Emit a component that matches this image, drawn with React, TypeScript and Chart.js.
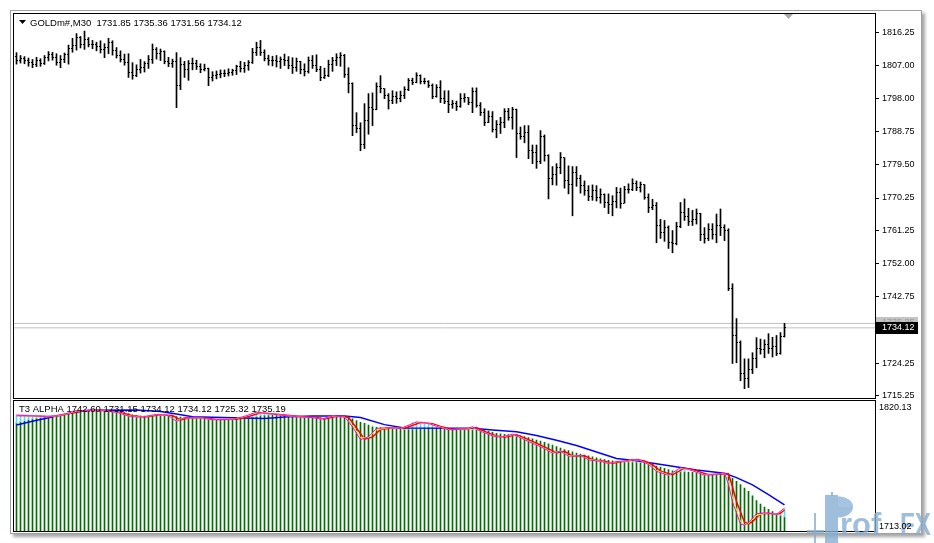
import React, { useEffect, useRef } from "react";
import { Chart, registerables } from "chart.js";
Chart.register(...registerables);

// ---------------- DATA ----------------
const symbol = "GOLDm#,M30";
const indicatorName = "T3 ALPHA";
const indicatorValues = [1742.6, 1731.15, 1734.12, 1734.12, 1725.32, 1735.19];
const priceTicks = [1816.25, 1807.0, 1798.0, 1788.75, 1779.5, 1770.25, 1761.25, 1752.0, 1742.75, 1724.25, 1715.25];
const askPrice = 1735.35;
const subWindowMax = 1820.13;
const subWindowMin = 1713.02;

const opens = [
  1809.5,1808.6,1809.2,1808.4,1807.9,1807.3,1808.5,1807.7,1809.3,1810.2,
  1809.4,1808.0,1808.9,1810.1,1811.9,1812.6,1814.9,1813.0,1814.3,1813.1,
  1812.9,1812.3,1811.6,1812.2,1813.5,1811.2,1810.0,1808.9,1808.0,1805.2,
  1804.3,1806.1,1806.6,1807.6,1808.7,1811.5,1810.4,1810.9,1808.3,1807.8,
  1808.2,1801.5,1807.4,1806.0,1807.6,1807.8,1806.8,1806.0,1806.2,1803.8,
  1804.3,1804.7,1804.9,1805.0,1805.2,1805.6,1806.8,1806.2,1807.0,1808.0,
  1810.6,1812.0,1810.7,1809.0,1808.4,1808.6,1808.2,1808.9,1808.5,1807.1,
  1806.5,1808.1,1806.0,1805.4,1808.6,1807.2,1806.0,1803.8,1804.2,1807.5,
  1808.5,1809.4,1810.0,1804.6,1802.0,1790.4,1789.5,1785.0,1791.8,1795.4,
  1795.0,1801.2,1800.6,1798.9,1797.4,1798.6,1797.9,1798.8,1800.4,1803.0,
  1802.4,1804.3,1802.8,1802.6,1801.5,1798.5,1801.0,1797.8,1797.0,1796.2,
  1796.6,1795.8,1797.9,1798.1,1796.9,1800.0,1796.0,1794.0,1791.2,1792.9,
  1789.4,1790.6,1791.3,1794.4,1792.6,1794.9,1788.2,1787.3,1788.5,1783.4,
  1782.9,1780.3,1787.4,1782.1,1775.6,1776.7,1778.7,1781.4,1775.1,1774.0,
  1777.4,1775.8,1773.6,1772.4,1770.6,1772.2,1770.4,1771.3,1768.9,1768.4,
  1769.4,1771.8,1768.8,1772.6,1772.6,1774.2,1773.1,1774.0,1770.5,1767.5,
  1768.3,1762.5,1760.6,1762.0,1758.0,1757.6,1762.2,1766.3,1765.0,1763.8,
  1764.3,1766.0,1760.0,1759.0,1761.5,1760.2,1762.5,1762.0,1761.2,1745.0,
  1732.0,1730.0,1721.3,1720.0,1722.6,1725.5,1728.5,1728.0,1729.6,1728.4,
  1729.0,1727.0,1731.85,
];
const highs = [
  1810.7,1809.9,1809.6,1809.2,1808.8,1809.4,1809.0,1809.9,1811.0,1810.8,
  1810.4,1809.9,1810.6,1812.8,1814.7,1816.0,1815.2,1816.7,1814.9,1814.1,
  1813.6,1814.0,1813.2,1814.7,1814.0,1812.1,1811.2,1810.3,1810.4,1807.9,
  1807.3,1808.8,1808.2,1809.9,1813.1,1812.1,1811.7,1811.2,1809.4,1808.9,
  1810.7,1809.3,1808.3,1808.5,1809.2,1808.6,1807.6,1807.5,1806.4,1805.4,
  1805.6,1805.9,1805.9,1806.2,1806.1,1807.2,1808.3,1808.0,1808.5,1811.9,
  1813.6,1814.1,1811.5,1810.0,1809.7,1809.9,1809.5,1810.3,1809.6,1809.3,
  1809.2,1808.3,1807.6,1809.5,1809.9,1810.1,1806.9,1806.4,1808.6,1809.4,
  1810.4,1810.7,1810.2,1806.5,1802.3,1794.0,1791.2,1796.5,1799.3,1799.5,
  1802.3,1804.3,1800.7,1799.3,1800.1,1799.8,1800.0,1801.2,1803.5,1803.6,
  1805.1,1804.5,1803.6,1802.9,1802.0,1801.8,1802.9,1800.1,1800.1,1797.4,
  1797.2,1799.3,1799.3,1798.2,1800.9,1800.9,1796.8,1795.1,1794.5,1794.3,
  1791.8,1792.7,1795.1,1795.2,1795.5,1795.0,1790.0,1790.4,1790.4,1785.0,
  1785.0,1789.0,1787.8,1782.3,1779.0,1779.8,1782.9,1781.5,1779.2,1779.0,
  1779.0,1776.6,1775.0,1773.7,1773.9,1773.7,1772.8,1771.4,1771.4,1770.9,
  1773.2,1773.0,1773.5,1774.2,1775.6,1775.0,1774.7,1774.0,1771.4,1769.9,
  1769.0,1764.3,1764.0,1762.5,1761.2,1763.5,1769.0,1770.0,1767.4,1766.8,
  1767.2,1766.0,1762.0,1763.1,1763.1,1765.8,1767.2,1762.8,1761.7,1746.4,
  1736.7,1730.5,1725.5,1725.5,1727.2,1731.4,1731.0,1730.8,1732.5,1731.5,
  1732.0,1732.8,1735.36,
];
const lows = [
  1807.5,1807.8,1807.6,1806.9,1806.5,1806.8,1806.9,1807.4,1808.4,1808.6,
  1807.2,1806.5,1807.9,1807.5,1810.8,1811.4,1812.0,1811.6,1812.3,1811.8,
  1811.2,1810.6,1809.3,1810.4,1810.0,1809.2,1808.1,1807.2,1803.8,1803.3,
  1804.0,1805.0,1805.3,1806.3,1807.7,1808.9,1808.5,1807.6,1806.8,1806.6,
  1795.4,1800.4,1803.8,1803.0,1805.9,1806.0,1805.1,1805.6,1801.5,1802.8,
  1803.4,1803.7,1804.0,1804.2,1804.4,1804.6,1805.3,1805.2,1805.8,1807.7,
  1809.9,1809.9,1808.4,1807.2,1807.0,1806.7,1806.3,1807.1,1806.2,1804.9,
  1805.5,1804.8,1804.2,1805.0,1806.3,1805.4,1802.9,1803.5,1804.0,1805.5,
  1807.1,1806.9,1803.8,1799.5,1787.6,1788.4,1783.4,1784.0,1788.0,1790.4,
  1794.8,1799.5,1797.9,1795.0,1796.5,1796.6,1797.0,1797.9,1800.1,1801.8,
  1802.3,1802.0,1802.0,1801.0,1797.9,1798.3,1796.8,1796.5,1794.0,1795.2,
  1794.6,1795.5,1796.9,1796.2,1794.0,1795.5,1793.2,1790.4,1791.2,1788.6,
  1787.0,1788.2,1789.8,1791.9,1789.4,1781.5,1786.6,1785.6,1781.2,1779.8,
  1778.5,1779.8,1780.5,1770.0,1773.9,1773.8,1777.0,1773.0,1771.4,1765.3,
  1773.5,1771.6,1771.0,1769.5,1769.6,1769.4,1768.8,1767.6,1765.9,1765.3,
  1767.5,1767.4,1768.8,1771.6,1772.3,1772.3,1771.9,1769.9,1766.2,1767.0,
  1757.8,1759.0,1758.2,1756.2,1755.0,1757.2,1762.0,1764.0,1762.6,1762.6,
  1763.0,1758.4,1757.7,1758.4,1758.8,1757.8,1759.8,1758.4,1744.5,1724.2,
  1724.4,1719.4,1717.2,1717.5,1721.4,1723.0,1726.8,1725.8,1727.0,1726.0,
  1726.4,1726.8,1731.56,
];
const closes = [
  1808.6,1809.2,1808.4,1807.9,1807.3,1808.5,1807.7,1809.3,1810.2,1809.4,
  1808.0,1808.9,1810.1,1811.9,1812.6,1814.9,1813.0,1814.3,1813.1,1812.9,
  1812.3,1811.6,1812.2,1813.5,1811.2,1810.0,1808.9,1808.0,1805.2,1804.3,
  1806.1,1806.6,1807.6,1808.7,1811.5,1810.4,1810.9,1808.3,1807.8,1808.2,
  1801.5,1807.4,1806.0,1807.6,1807.8,1806.8,1806.0,1806.2,1803.8,1804.3,
  1804.7,1804.9,1805.0,1805.2,1805.6,1806.8,1806.2,1807.0,1808.0,1810.6,
  1812.0,1810.7,1809.0,1808.4,1808.6,1808.2,1808.9,1808.5,1807.1,1806.5,
  1808.1,1806.0,1805.4,1808.6,1807.2,1806.0,1803.8,1804.2,1807.5,1808.5,
  1809.4,1810.0,1804.6,1802.0,1790.4,1789.5,1785.0,1791.8,1795.4,1795.0,
  1801.2,1800.6,1798.9,1797.4,1798.6,1797.9,1798.8,1800.4,1803.0,1802.4,
  1804.3,1802.8,1802.6,1801.5,1798.5,1801.0,1797.8,1797.0,1796.2,1796.6,
  1795.8,1797.9,1798.1,1796.9,1800.0,1796.0,1794.0,1791.2,1792.9,1789.4,
  1790.6,1791.3,1794.4,1792.6,1794.9,1788.2,1787.3,1788.5,1783.4,1782.9,
  1780.3,1787.4,1782.1,1775.6,1776.7,1778.7,1781.4,1775.1,1774.0,1777.4,
  1775.8,1773.6,1772.4,1770.6,1772.2,1770.4,1771.3,1768.9,1768.4,1769.4,
  1771.8,1768.8,1772.6,1772.6,1774.2,1773.1,1774.0,1770.5,1767.5,1768.3,
  1762.5,1760.6,1762.0,1758.0,1757.6,1762.2,1766.3,1765.0,1763.8,1764.3,
  1766.0,1760.0,1759.0,1761.5,1760.2,1762.5,1762.0,1761.2,1745.0,1732.0,
  1730.0,1721.3,1720.0,1722.6,1725.5,1728.5,1728.0,1729.6,1728.4,1729.0,
  1727.0,1731.85,1734.12,
];

// T3 ALPHA histogram (green) per bar
const histGreen = [
  1802.0,1803.0,1804.0,1804.8,1805.4,1806.0,1806.4,1806.8,1807.2,1807.6,
  1808.0,1808.5,1809.0,1809.8,1810.6,1811.3,1811.9,1812.3,1812.6,1812.7,
  1812.7,1812.6,1812.5,1812.5,1812.4,1812.0,1811.4,1810.6,1809.8,1808.9,
  1808.3,1807.9,1807.8,1807.9,1808.3,1808.5,1808.6,1808.5,1808.3,1808.1,
  1807.3,1807.0,1806.8,1806.7,1806.7,1806.6,1806.4,1806.2,1805.8,1805.4,
  1805.1,1804.9,1804.8,1804.8,1804.9,1805.1,1805.4,1805.7,1806.0,1806.5,
  1807.3,1808.0,1808.4,1808.5,1808.4,1808.4,1808.3,1808.2,1808.0,1807.6,
  1807.4,1807.3,1807.0,1806.9,1806.9,1806.8,1806.3,1805.8,1805.9,1806.4,
  1807.0,1807.5,1807.4,1806.7,1805.6,1804.1,1802.7,1801.9,1800.5,1799.1,
  1798.6,1798.2,1797.8,1797.6,1797.4,1797.2,1797.0,1797.0,1797.0,1797.1,
  1797.3,1797.5,1797.7,1797.9,1798.0,1798.0,1797.9,1797.6,1797.3,1797.0,
  1796.8,1796.7,1796.7,1796.6,1796.6,1796.5,1796.3,1796.0,1795.3,1794.5,
  1793.7,1793.2,1792.9,1792.7,1792.5,1792.2,1791.6,1791.0,1790.2,1789.2,
  1788.2,1787.3,1786.3,1785.2,1784.0,1782.8,1781.6,1780.5,1779.5,1778.6,
  1777.6,1776.8,1776.0,1775.2,1774.4,1773.6,1772.9,1772.2,1771.7,1771.2,
  1770.8,1770.6,1770.3,1770.2,1770.2,1770.1,1769.8,1769.4,1768.8,1768.0,
  1767.0,1766.0,1765.0,1764.0,1763.0,1762.4,1762.2,1762.2,1762.1,1761.9,
  1761.6,1761.2,1760.7,1760.3,1760.0,1759.9,1759.9,1759.6,1758.4,1756.9,
  1754.5,1751.8,1749.0,1746.2,1742.5,1738.8,1735.8,1733.4,1731.6,1729.8,
  1727.9,1726.5,1725.3,
];

// T3 ALPHA histogram (aqua) — bars where the fast line is above the green value
const cyanIdx = [0,1,2,3,4,5,6,7,8,9,10,14,15,16,17,58,59,60,61,62,63,97,98,99,100,101,102,103,104,114,152,153,154,155,156,166,167,191,192];
const cyanTop = [1808.5,1808.6,1808.4,1808.2,1808.0,1808.0,1807.8,1807.6,1807.9,1808.2,1808.6,1811.8,1812.5,1812.8,1813.0,1807.8,1810.0,1811.0,1810.8,1810.2,1809.5,1798.5,1800.5,1802.5,1803.0,1802.6,1802.2,1801.5,1800.4,1799.0,1771.0,1771.8,1772.4,1772.2,1771.4,1765.5,1765.2,1729.5,1732.0];

// T3 lines: [bar index, value]
const slowLine: [number, number][] = [
  [0,1800.5],[4,1803.5],[8,1806.5],[13,1810.0],[18,1812.5],[30,1812.8],[36,1811.5],[40,1809.5],[44,1807.2],
  [54,1806.5],[62,1805.8],[68,1807.2],[74,1807.9],[82,1807.9],[86,1806.6],[92,1800.8],[97,1798.0],[114,1797.8],
  [119,1796.4],[125,1795.0],[130,1792.0],[135,1788.0],[140,1783.8],[145,1778.4],[150,1773.2],[155,1771.3],
  [162,1767.8],[170,1763.7],[177,1761.0],[180,1757.5],[184,1751.5],[188,1743.5],[192,1735.2],
];
const magentaLine: [number, number][] = [
  [0,1808.5],[4,1808.0],[8,1807.2],[10,1808.2],[13,1810.2],[15,1812.3],[20,1812.6],[25,1811.0],[28,1807.8],[31,1806.8],
  [35,1809.2],[38,1808.2],[40,1803.5],[42,1806.6],[46,1806.4],[49,1804.8],[54,1805.2],[57,1807.6],[60,1811.0],[62,1810.2],
  [66,1808.6],[71,1807.0],[74,1806.6],[76,1805.2],[79,1807.8],[82,1807.2],[84,1799.0],[86,1788.5],[88,1790.8],[90,1797.8],
  [93,1798.4],[96,1797.6],[100,1803.0],[103,1801.8],[105,1799.4],[108,1796.6],[112,1797.2],[114,1799.0],[116,1795.4],
  [119,1791.6],[121,1790.4],[124,1793.0],[126,1790.0],[129,1785.6],[132,1781.2],[134,1777.4],[136,1779.2],[138,1775.0],
  [141,1775.6],[143,1772.0],[146,1770.8],[148,1769.0],[150,1770.6],[152,1771.0],[154,1772.4],[156,1771.2],[158,1768.4],
  [160,1762.6],[163,1759.4],[166,1765.6],[168,1764.2],[172,1759.6],[174,1760.0],[177,1761.4],[178,1752.0],[179,1737.5],
  [181,1719.5],[182,1718.6],[183,1720.5],[185,1728.0],[187,1728.6],[189,1728.0],[190,1727.4],[192,1732.6],
];
const redLine: [number, number][] = [
  [0,1808.2],[4,1808.1],[8,1807.4],[10,1807.8],[13,1809.6],[16,1812.0],[21,1812.6],[26,1810.8],[29,1808.0],[32,1807.0],
  [36,1808.8],[39,1808.2],[41,1804.6],[43,1806.2],[47,1806.2],[50,1805.0],[55,1805.2],[58,1807.4],[61,1810.4],[63,1810.0],
  [67,1808.6],[72,1807.0],[75,1806.6],[77,1805.4],[80,1807.6],[83,1806.8],[85,1798.0],[87,1789.0],[89,1790.6],[91,1796.8],
  [94,1798.2],[97,1797.8],[101,1802.6],[104,1801.6],[106,1799.4],[109,1796.8],[113,1797.4],[115,1798.4],[117,1795.2],
  [120,1791.6],[122,1790.6],[125,1792.6],[127,1790.0],[130,1785.6],[133,1781.0],[135,1777.8],[137,1779.0],[139,1775.2],
  [142,1775.4],[144,1772.2],[147,1770.8],[149,1769.2],[151,1770.4],[153,1771.2],[155,1772.2],[157,1771.0],[159,1768.0],
  [161,1762.8],[164,1759.8],[167,1765.2],[169,1764.0],[173,1759.8],[175,1760.2],[178,1760.6],[179,1750.0],[180,1738.0],
  [182,1721.0],[183,1719.6],[184,1721.5],[186,1728.0],[188,1728.4],[190,1727.6],[191,1728.4],[192,1731.2],
];
const yellowLine: [number, number][] = [
  [0,1808.4],[4,1808.0],[8,1807.3],[10,1808.0],[13,1809.9],[15,1812.0],[20,1812.6],[25,1811.0],[28,1808.0],[31,1806.9],
  [35,1809.0],[38,1808.2],[40,1804.0],[42,1806.4],[46,1806.3],[49,1804.9],[54,1805.2],[57,1807.4],[60,1810.6],[62,1810.1],
  [66,1808.6],[71,1807.0],[74,1806.6],[76,1805.3],[79,1807.7],[82,1807.0],[84,1800.5],[86,1790.0],[88,1790.2],[90,1796.5],
  [93,1798.3],[96,1797.7],[100,1802.6],[103,1801.8],[105,1799.6],[108,1796.8],[112,1797.2],[114,1798.6],[116,1795.6],
  [119,1791.8],[121,1790.5],[124,1792.6],[126,1790.2],[129,1786.0],[132,1781.4],[134,1778.0],[136,1779.0],[138,1775.4],
  [141,1775.5],[143,1772.3],[146,1771.0],[148,1769.2],[150,1770.4],[152,1770.9],[154,1772.2],[156,1771.3],[158,1768.6],
  [160,1763.4],[163,1759.6],[166,1765.0],[168,1764.2],[172,1759.8],[174,1760.0],[177,1761.2],[178,1754.0],[179,1741.0],
  [181,1721.5],[182,1719.2],[183,1720.0],[185,1726.5],[187,1728.4],[189,1728.0],[190,1727.5],[192,1731.8],
];

// ---------------- LAYOUT / STYLE ----------------
const W = 934;
const H = 543;
const FONT = '"Liberation Sans", Arial, sans-serif';
const X_MIN = -0.625;
const X_MAX = 214.625;
const AXIS_W = 59;

const fmt = (v: number) => v.toFixed(2);
const toXY = (pts: [number, number][]) => pts.map(([x, y]) => ({ x, y }));

function tickImage(left: boolean) {
  const c = document.createElement("canvas");
  c.width = 3;
  c.height = 1;
  const g = c.getContext("2d")!;
  g.fillStyle = "#000";
  g.fillRect(left ? 0 : 2, 0, 1, 1);
  return c;
}

function drawWatermark(ctx: CanvasRenderingContext2D) {
  ctx.save();
  ctx.globalAlpha = 0.8;
  ctx.fillStyle = "#86aed2";
  ctx.fillRect(814, 513, 2, 30);
  ctx.fillRect(807, 530, 17, 3);
  ctx.fillRect(825, 495, 13, 48);
  ctx.fillRect(831, 492, 2, 4);
  ctx.beginPath();
  ctx.ellipse(838, 507, 15, 10.5, 0, -Math.PI / 2, Math.PI / 2);
  ctx.closePath();
  ctx.fill();
  ctx.fillStyle = "#a9c6e0";
  ctx.beginPath();
  ctx.moveTo(838, 507);
  ctx.ellipse(838, 507, 15, 10.5, 0, -Math.PI / 2, 0);
  ctx.closePath();
  ctx.fill();
  ctx.fillStyle = "#86aed2";
  ctx.font = `bold 31px ${FONT}`;
  ctx.textBaseline = "alphabetic";
  ctx.textAlign = "left";
  ctx.fillText("rof", 840, 535);
  ctx.fillText("FX", 900, 535, 31);
  ctx.restore();
}

export default function App() {
  const topRef = useRef<HTMLCanvasElement>(null);
  const botRef = useRef<HTMLCanvasElement>(null);

  useEffect(() => {
    const last = closes.length - 1;
    const crisp = {
      id: "crisp",
      beforeDatasetsDraw(chart: any) {
        chart.ctx.imageSmoothingEnabled = false;
      },
    };

    const topDeco = {
      id: "topDeco",
      afterDraw(chart: any) {
        const ctx = chart.ctx as CanvasRenderingContext2D;
        const ys = chart.scales.y;
        ctx.save();
        ctx.strokeStyle = "#000";
        ctx.lineWidth = 1;
        ctx.strokeRect(13.5, 13.5, 862, 385);
        ctx.fillStyle = "#a8a8a8";
        ctx.beginPath();
        ctx.moveTo(784, 14);
        ctx.lineTo(793, 14);
        ctx.lineTo(788.5, 19);
        ctx.closePath();
        ctx.fill();
        ctx.fillStyle = "#000";
        ctx.beginPath();
        ctx.moveTo(19, 20);
        ctx.lineTo(26, 20);
        ctx.lineTo(22.5, 24);
        ctx.closePath();
        ctx.fill();
        ctx.font = `9.5px ${FONT}`;
        ctx.textBaseline = "middle";
        ctx.textAlign = "left";
        ctx.fillText(
          `${symbol}  ${fmt(opens[last])} ${fmt(highs[last])} ${fmt(lows[last])} ${fmt(closes[last])}`,
          30,
          23
        );
        const ya = Math.round(ys.getPixelForValue(askPrice));
        const yb = Math.round(ys.getPixelForValue(closes[last]));
        ctx.font = `9px ${FONT}`;
        ctx.fillStyle = "#c4c4c4";
        ctx.fillRect(876, ya - 6, 42, 12);
        ctx.fillStyle = "#9a9a9a";
        ctx.fillText(fmt(askPrice), 882, ya);
        ctx.fillStyle = "#000";
        ctx.fillRect(876, yb - 6, 42, 12);
        ctx.fillStyle = "#fff";
        ctx.fillText(fmt(closes[last]), 882, yb);
        ctx.restore();
      },
    };

    const botDeco = {
      id: "botDeco",
      afterDraw(chart: any) {
        const ctx = chart.ctx as CanvasRenderingContext2D;
        ctx.save();
        ctx.strokeStyle = "#000";
        ctx.lineWidth = 1;
        ctx.strokeRect(13.5, 400.5, 862, 131);
        drawWatermark(ctx);
        ctx.fillStyle = "#000";
        ctx.font = `9.5px ${FONT}`;
        ctx.textBaseline = "middle";
        ctx.textAlign = "left";
        ctx.fillText(`${indicatorName} ${indicatorValues.map(fmt).join(" ")}`, 19, 409);
        ctx.font = `9px ${FONT}`;
        ctx.textBaseline = "top";
        ctx.fillText(fmt(subWindowMax), 879, 403);
        ctx.textBaseline = "bottom";
        ctx.fillText(fmt(subWindowMin), 879, 531);
        ctx.restore();
      },
    };

    const common = {
      responsive: false,
      animation: false as const,
      devicePixelRatio: 1,
      events: [] as any[],
    };

    const xScale = { type: "linear", min: X_MIN, max: X_MAX, display: false, offset: false, grid: { offset: false } };

    const top = new Chart(topRef.current!, {
      type: "bar",
      data: {
        datasets: [
          {
            type: "bar",
            data: highs.map((h, i) => ({ x: i, y: [lows[i], h] })) as any,
            backgroundColor: "#000",
            barThickness: 1,
            maxBarThickness: 1,
            borderWidth: 0,
            order: 2,
          } as any,
          {
            type: "scatter",
            data: opens.map((v, i) => ({ x: i, y: v })),
            pointStyle: tickImage(true),
            pointRadius: 1,
            order: 1,
          },
          {
            type: "scatter",
            data: closes.map((v, i) => ({ x: i, y: v })),
            pointStyle: tickImage(false),
            pointRadius: 1,
            order: 0,
          },
          {
            type: "line",
            data: [
              { x: X_MIN, y: askPrice },
              { x: X_MAX, y: askPrice },
            ],
            borderColor: "#c0c0c0",
            borderWidth: 1,
            pointRadius: 0,
            order: 4,
          },
          {
            type: "line",
            data: [
              { x: X_MIN, y: closes[last] },
              { x: X_MAX, y: closes[last] },
            ],
            borderColor: "#c0c0c0",
            borderWidth: 1,
            pointRadius: 0,
            order: 3,
          },
        ],
      },
      options: {
        ...common,
        layout: { padding: { left: 14, top: 14, right: 0, bottom: H - 398 } },
        plugins: { legend: { display: false }, tooltip: { enabled: false } },
        scales: {
          x: xScale,
          y: {
            position: "right",
            min: 1714.6,
            max: 1821.45,
            afterBuildTicks: (s: any) => {
              s.ticks = priceTicks.map((v) => ({ value: v }));
            },
            afterFit: (s: any) => {
              s.width = AXIS_W;
            },
            ticks: {
              autoSkip: false,
              padding: 3,
              color: "#000",
              font: { family: FONT, size: 9 },
              callback: (v: any) => fmt(Number(v)),
            },
            grid: { drawOnChartArea: false, drawTicks: true, tickLength: 4, tickColor: "#000" },
            border: { display: true, color: "#000" },
          },
        },
      } as any,
      plugins: [crisp, topDeco],
    });

    const bot = new Chart(botRef.current!, {
      type: "bar",
      data: {
        datasets: [
          {
            type: "bar",
            data: histGreen.map((v, i) => ({ x: i, y: v })),
            backgroundColor: "#006e00",
            barThickness: 1,
            maxBarThickness: 1,
            grouped: false,
            order: 6,
          } as any,
          {
            type: "bar",
            data: cyanIdx.map((i, k) => ({ x: i, y: [histGreen[i], cyanTop[k]] })) as any,
            backgroundColor: "#4fdcff",
            barThickness: 1,
            maxBarThickness: 1,
            grouped: false,
            order: 5,
          } as any,
          {
            type: "line",
            data: toXY(slowLine),
            borderColor: "#0000ff",
            borderWidth: 1.5,
            pointRadius: 0,
            order: 3,
          },
          {
            type: "line",
            data: toXY(redLine),
            borderColor: "#ff0000",
            borderWidth: 1.5,
            pointRadius: 0,
            order: 2,
          },
          {
            type: "line",
            data: toXY(yellowLine),
            borderColor: "#ffff00",
            borderWidth: 1,
            pointRadius: 0,
            order: 1,
          },
          {
            type: "line",
            data: toXY(magentaLine),
            borderColor: "#ff00ff",
            borderWidth: 1,
            pointRadius: 0,
            order: 0,
          },
        ],
      },
      options: {
        ...common,
        layout: { padding: { left: 14, top: 401, right: AXIS_W, bottom: H - 532 } },
        plugins: { legend: { display: false }, tooltip: { enabled: false } },
        scales: {
          x: xScale,
          y: { min: subWindowMin, max: subWindowMax, display: false },
        },
      } as any,
      plugins: [botDeco],
    });

    return () => {
      top.destroy();
      bot.destroy();
    };
  }, []);

  return (
    <div
      style={{
        position: "fixed",
        left: 0,
        top: 0,
        width: W,
        height: H,
        background: "#fff",
        overflow: "hidden",
      }}
    >
      <div
        style={{
          position: "absolute",
          left: 10,
          top: 10,
          width: 912,
          height: 524,
          boxSizing: "border-box",
          border: "1px solid #a0a0a0",
          boxShadow: "3px 3px 3px rgba(0,0,0,0.35)",
          background: "#fff",
        }}
      />
      <canvas
        ref={botRef}
        width={W}
        height={H}
        style={{ position: "absolute", left: 0, top: 0, width: W, height: H }}
      />
      <canvas
        ref={topRef}
        width={W}
        height={H}
        style={{ position: "absolute", left: 0, top: 0, width: W, height: H }}
      />
    </div>
  );
}
